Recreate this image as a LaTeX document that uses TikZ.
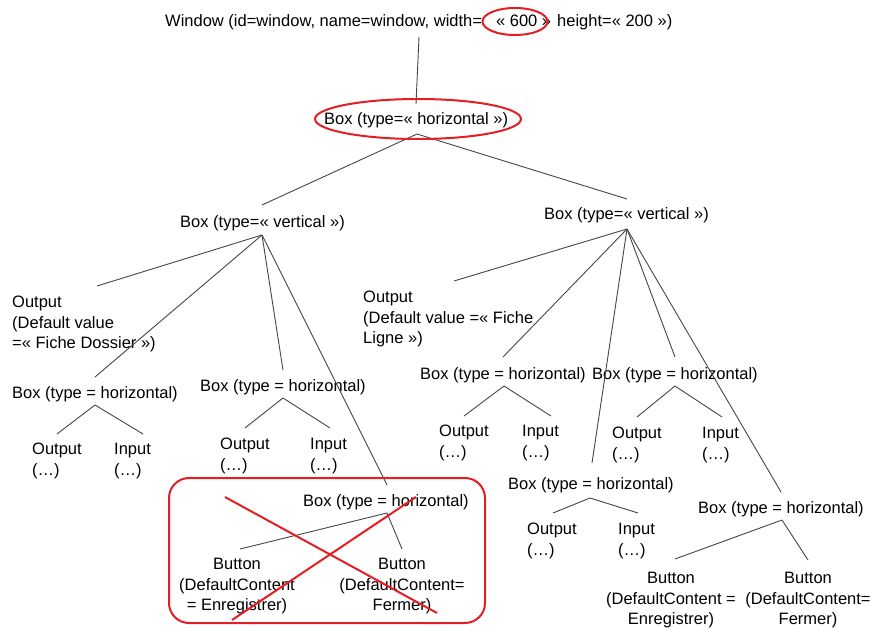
\documentclass[tikz,border=0pt]{standalone}
\usepackage{fontspec}
\setmainfont{Liberation Sans}
\definecolor{markred}{RGB}{228,30,36}
\definecolor{linegray}{RGB}{70,70,70}
\begin{document}
\begin{tikzpicture}[x=1pt,y=-1pt,
  lbl/.style={inner sep=0pt, font=\fontsize{16.5}{20.5}\selectfont, text=black},
  one/.style={lbl, anchor=base west},
  multi/.style={lbl, anchor=north west, align=left},
  multic/.style={lbl, anchor=north, align=center},
  conn/.style={draw=linegray, line width=0.9pt},
  redmark/.style={draw=markred, line width=2pt}]
\useasboundingbox[fill=white] (0,0) rectangle (873,628);

% ---- labels ----
\node[one] (win) at (165,27) {Window (id=window, name=window, width=\hspace{9.5pt} « 600 »\hspace{1.5pt} height=« 200 »)};
\node[one] (bh) at (324,125) {Box (type=« horizontal »)};
\node[one] (bvl) at (180,228) {Box (type=« vertical »)};
\node[one] (bvr) at (544,220) {Box (type=« vertical »)};

\node[multi] (outL) at (12,296) {Output\\(Default value\\=« Fiche Dossier »)};
\node[one] (bhL1) at (12,398) {Box (type = horizontal)};
\node[one] (bhL2) at (200,391) {Box (type = horizontal)};
\node[multi] (oL1) at (32,443) {Output\\(…)};
\node[multi] (iL1) at (114,443) {Input\\(…)};
\node[multi] (oL2) at (220,438) {Output\\(…)};
\node[multi] (iL2) at (310,438) {Input\\(…)};
\node[one] (bhL3) at (303,506) {Box (type = horizontal)};
\node[multic] (btnL1) at (237,558) {Button\\(DefaultContent\\= Enregistrer)};
\node[multic] (btnL2) at (402,558) {Button\\(DefaultContent=\\Fermer)};

\node[multi] (outR) at (363,291) {Output\\(Default value =« Fiche\\Ligne »)};
\node[one] (bhR1) at (420,379) {Box (type = horizontal)};
\node[one] (bhR2) at (592,379) {Box (type = horizontal)};
\node[multi] (oR1) at (439,425) {Output\\(…)};
\node[multi] (iR1) at (522,425) {Input\\(…)};
\node[multi] (oR2) at (612,427) {Output\\(…)};
\node[multi] (iR2) at (702,427) {Input\\(…)};
\node[one] (bhR3) at (508,489) {Box (type = horizontal)};
\node[multi] (oR3) at (527,523) {Output\\(…)};
\node[multi] (iR3) at (618,523) {Input\\(…)};
\node[one] (bhR4) at (698,513) {Box (type = horizontal)};
\node[multic] (btnR1) at (671,572) {Button\\(DefaultContent =\\Enregistrer)};
\node[multic] (btnR2) at (808,572) {Button\\(DefaultContent=\\Fermer)};

% ---- connector points ----
\coordinate (win-j) at (419,37);
\coordinate (bh-t) at (416,104);
\coordinate (bh-j) at (417,134);
\coordinate (bvl-t) at (262,205);
\coordinate (bvr-t) at (627,199);
\coordinate (bvl-j) at (262,235);
\coordinate (bvr-j) at (627,229);
\coordinate (outL-t) at (97,286);
\coordinate (bhL1-t) at (95,377);
\coordinate (bhL2-t) at (283,370);
\coordinate (bhL3-t) at (387,485);
\coordinate (bhL1-j) at (95,405);
\coordinate (oL1-t) at (57,434);
\coordinate (iL1-t) at (143,434);
\coordinate (bhL2-j) at (283,398);
\coordinate (oL2-t) at (245,428);
\coordinate (iL2-t) at (330,428);
\coordinate (bhL3-j) at (387,513);
\coordinate (btnL1-t) at (240,549);
\coordinate (btnL2-t) at (402,549);
\coordinate (outR-t) at (454,281);
\coordinate (bhR1-t) at (503,357);
\coordinate (bhR2-t) at (675,357);
\coordinate (bhR3-t) at (592,463);
\coordinate (bhR4-t) at (781,492);
\coordinate (bhR1-j) at (504,386);
\coordinate (oR1-t) at (464,416);
\coordinate (iR1-t) at (551,416);
\coordinate (bhR2-j) at (675,386);
\coordinate (oR2-t) at (637,417);
\coordinate (iR2-t) at (722,417);
\coordinate (bhR3-j) at (590,498);
\coordinate (oR3-t) at (553,513);
\coordinate (iR3-t) at (638,513);
\coordinate (bhR4-j) at (782,520);
\coordinate (btnR1-t) at (675,559);
\coordinate (btnR2-t) at (808,560);

% ---- connectors ----
\draw[conn] (win-j) -- (bh-t);
\draw[conn] (bh-j) -- (bvl-t);
\draw[conn] (bh-j) -- (bvr-t);
\draw[conn] (bvl-j) -- (outL-t);
\draw[conn] (bvl-j) -- (bhL1-t);
\draw[conn] (bvl-j) -- (bhL2-t);
\draw[conn] (bvl-j) -- (bhL3-t);
\draw[conn] (bhL1-j) -- (oL1-t);
\draw[conn] (bhL1-j) -- (iL1-t);
\draw[conn] (bhL2-j) -- (oL2-t);
\draw[conn] (bhL2-j) -- (iL2-t);
\draw[conn] (bhL3-j) -- (btnL1-t);
\draw[conn] (bhL3-j) -- (btnL2-t);
\draw[conn] (bvr-j) -- (outR-t);
\draw[conn] (bvr-j) -- (bhR1-t);
\draw[conn] (bvr-j) -- (bhR2-t);
\draw[conn] (bvr-j) -- (bhR3-t);
\draw[conn] (bvr-j) -- (bhR4-t);
\draw[conn] (bhR1-j) -- (oR1-t);
\draw[conn] (bhR1-j) -- (iR1-t);
\draw[conn] (bhR2-j) -- (oR2-t);
\draw[conn] (bhR2-j) -- (iR2-t);
\draw[conn] (bhR3-j) -- (oR3-t);
\draw[conn] (bhR3-j) -- (iR3-t);
\draw[conn] (bhR4-j) -- (btnR1-t);
\draw[conn] (bhR4-j) -- (btnR2-t);

% ---- red annotations ----
\draw[redmark] (515,21.5) ellipse [x radius=32.5, y radius=13.5];
\draw[redmark] (418,119) ellipse [x radius=103, y radius=20];
\draw[redmark, rounded corners=20pt] (169,478) rectangle (485,623);
\coordinate (x1a) at (225,497);
\coordinate (x1b) at (437,613);
\coordinate (x2a) at (232,620);
\coordinate (x2b) at (416,497);
\draw[redmark] (x1a) -- (x1b);
\draw[redmark] (x2a) -- (x2b);
\end{tikzpicture}
\end{document}
